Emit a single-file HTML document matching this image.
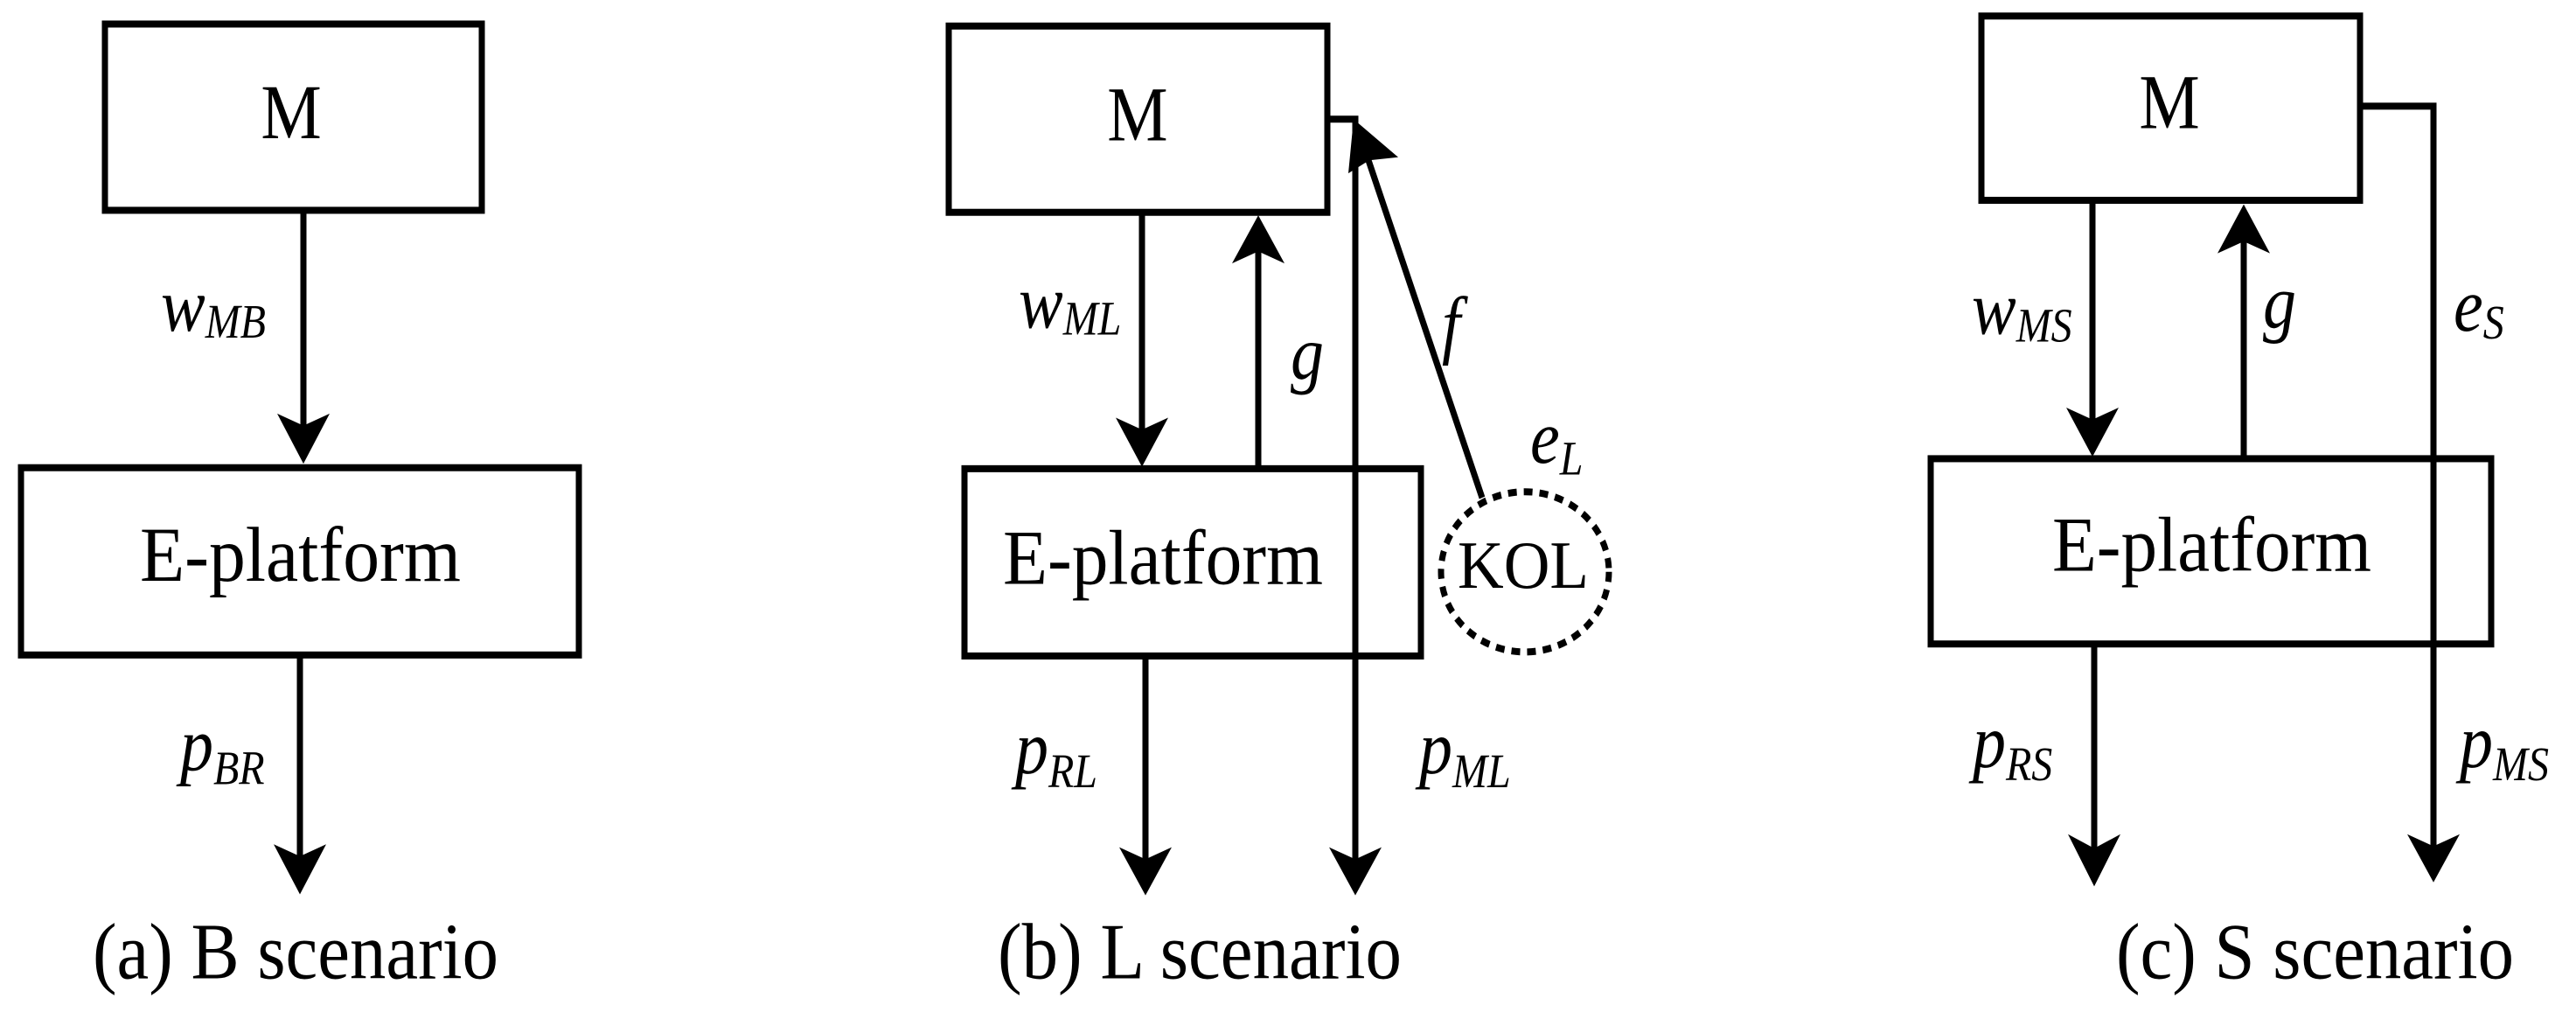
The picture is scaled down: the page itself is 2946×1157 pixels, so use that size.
<!DOCTYPE html>
<html><head><meta charset="utf-8"><style>html,body{margin:0;padding:0;background:#fff}svg{display:block}text{font-family:"Liberation Serif",serif;fill:#000}.i{font-style:italic}</style></head><body>
<svg width="2946" height="1157" viewBox="0 0 2946 1157" xmlns="http://www.w3.org/2000/svg">
<g transform="scale(1,1.145)">
<g stroke="#000" stroke-width="7" fill="none">
<rect x="120" y="24" width="431" height="186"/>
<rect x="24" y="467" width="638" height="187"/>
<line x1="347" y1="210" x2="347" y2="440"/>
<line x1="343" y1="654" x2="343" y2="870"/>
<rect x="1085" y="26" width="433" height="186"/>
<rect x="1103" y="468" width="522" height="187"/>
<line x1="1306" y1="212" x2="1306" y2="440"/>
<line x1="1439" y1="468" x2="1439" y2="240"/>
<polyline points="1518,119 1550,119 1550,870"/>
<line x1="1310" y1="655" x2="1310" y2="870"/>
<line x1="1695" y1="497" x2="1565" y2="160"/>
<ellipse cx="1744" cy="571" rx="96" ry="80" stroke-dasharray="10,8"/>
<rect x="2266" y="16" width="433" height="184"/>
<rect x="2208" y="458" width="641" height="185"/>
<line x1="2393" y1="200" x2="2393" y2="430"/>
<line x1="2566" y1="458" x2="2566" y2="230"/>
<polyline points="2699,106 2783,106 2783,860"/>
<line x1="2395" y1="643" x2="2395" y2="860"/>
</g>
<g fill="#000">
<polygon points="347,463 317,413 347,425 377,413"/>
<polygon points="343,893 313,843 343,855 373,843"/>
<polygon points="1306,466 1276,417 1306,429 1336,417"/>
<polygon points="1439,215 1409,263 1439,251 1469,263"/>
<polygon points="1550,894 1520,846 1550,858 1580,846"/>
<polygon points="1310,894 1280,846 1310,858 1340,846"/>
<polygon points="1548,119 1542,173 1566,160 1599,157"/>
<polygon points="2393,456 2363,407 2393,419 2423,407"/>
<polygon points="2566,204 2536,253 2566,241 2596,253"/>
<polygon points="2783,881 2753,833 2783,845 2813,833"/>
<polygon points="2395,885 2365,833 2395,847 2425,833"/>
</g>
<g font-size="78" text-anchor="middle">
<text x="333" y="138">M</text>
<text x="1301" y="140">M</text>
<text x="2481" y="128">M</text>
</g>
<g font-size="78">
<text x="160" y="580" textLength="367" lengthAdjust="spacingAndGlyphs">E-platform</text>
<text x="1147" y="583" textLength="366" lengthAdjust="spacingAndGlyphs">E-platform</text>
<text x="2347" y="570" textLength="365" lengthAdjust="spacingAndGlyphs">E-platform</text>
<text x="1667" y="587" font-size="68" textLength="150" lengthAdjust="spacingAndGlyphs">KOL</text>
</g>
<g font-size="80">
<text x="106" y="977" textLength="464" lengthAdjust="spacingAndGlyphs">(a) B scenario</text>
<text x="1141" y="977" textLength="462" lengthAdjust="spacingAndGlyphs">(b) L scenario</text>
<text x="2420" y="977" textLength="455" lengthAdjust="spacingAndGlyphs">(c) S scenario</text>
</g>
<g class="i" font-size="76">
<text x="184" y="330">w<tspan font-size="48" dy="7">MB</tspan></text>
<text x="206" y="769">p<tspan font-size="48" dy="14">BR</tspan></text>
<text x="1165" y="327">w<tspan font-size="48" dy="7">ML</tspan></text>
<text x="1476" y="378">g</text>
<text x="1649" y="349">f</text>
<text x="1750" y="462">e<tspan font-size="48" dy="12">L</tspan></text>
<text x="1161" y="772">p<tspan font-size="48" dy="14">RL</tspan></text>
<text x="1623" y="772">p<tspan font-size="48" dy="14">ML</tspan></text>
<text x="2255" y="333">w<tspan font-size="48" dy="8">MS</tspan></text>
<text x="2588" y="327">g</text>
<text x="2806" y="330">e<tspan font-size="48" dy="8">S</tspan></text>
<text x="2256" y="766">p<tspan font-size="48" dy="13">RS</tspan></text>
<text x="2813" y="766">p<tspan font-size="48" dy="13">MS</tspan></text>
</g>
</g>
</svg>
</body></html>
